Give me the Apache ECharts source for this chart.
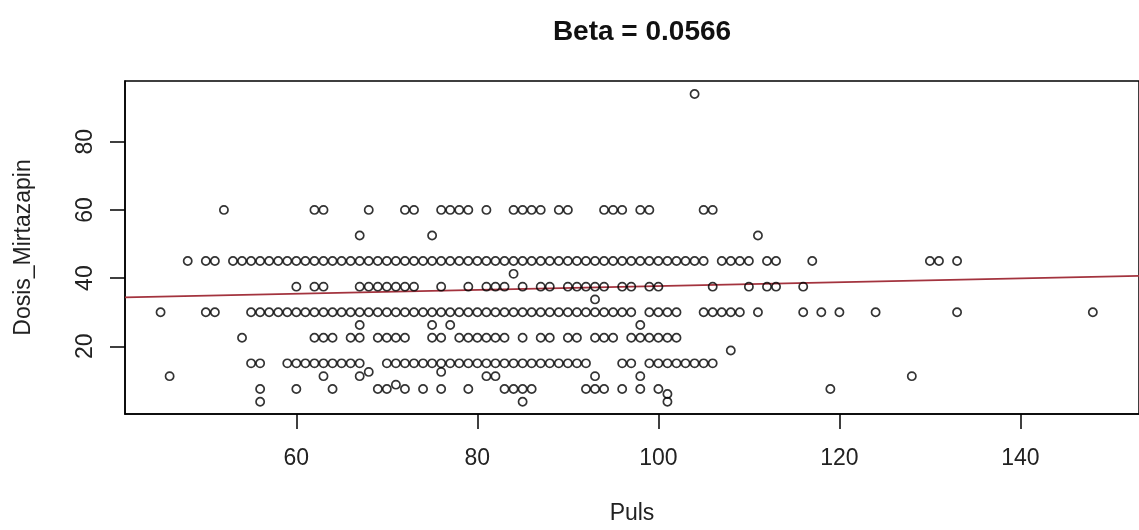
<!DOCTYPE html>
<html>
<head>
<meta charset="utf-8">
<script src="https://cdn.jsdelivr.net/npm/echarts@6/dist/echarts.min.js"></script>
<style>
  html, body { margin: 0; padding: 0; background: #ffffff; }
  #chart { width: 1139px; height: 530px; }
</style>
</head>
<body>
<div id="chart"></div>
<script>
// Puls values observed at each Mirtazapin dose (mg)
const puls_94 = [104];
const puls_60 = [52, 62, 63, 68, 72, 73, 76, 77, 78, 79, 81, 84, 85, 86, 87, 89, 90, 94, 95, 96, 98, 99, 105, 106];
const puls_52_5 = [67, 75, 111];
const puls_45 = [48, 50, 51,
  53, 54, 55, 56, 57, 58, 59, 60, 61, 62, 63, 64, 65, 66, 67, 68, 69, 70,
  71, 72, 73, 74, 75, 76, 77, 78, 79, 80, 81, 82, 83, 84, 85, 86, 87, 88,
  89, 90, 91, 92, 93, 94, 95, 96, 97, 98, 99, 100, 101, 102, 103, 104, 105,
  107, 108, 109, 110, 112, 113, 117, 130, 131, 133];
const puls_41_25 = [84];
const puls_37_5 = [60, 62, 63, 67, 68, 69, 70, 71, 72, 73, 76, 79, 81, 82, 83, 85, 87, 88,
  90, 91, 92, 93, 94, 96, 97, 99, 100, 106, 110, 112, 113, 116];
const puls_33_75 = [93];
const puls_30 = [45, 50, 51,
  55, 56, 57, 58, 59, 60, 61, 62, 63, 64, 65, 66, 67, 68, 69, 70, 71, 72,
  73, 74, 75, 76, 77, 78, 79, 80, 81, 82, 83, 84, 85, 86, 87, 88, 89, 90,
  91, 92, 93, 94, 95, 96, 97,
  99, 100, 101, 102, 105, 106, 107, 108, 109, 111, 116, 118, 120, 124, 133, 148];
const puls_26_25 = [67, 75, 77, 98];
const puls_22_5 = [54, 62, 63, 64, 66, 67, 69, 70, 71, 72, 75, 76, 78, 79, 80, 81, 82, 83,
  85, 87, 88, 90, 91, 93, 94, 95, 97, 98, 99, 100, 101, 102];
const puls_18_75 = [108];
const puls_15 = [55, 56, 59, 60, 61, 62, 63, 64, 65, 66, 67,
  70, 71, 72, 73, 74, 75, 76, 77, 78, 79, 80, 81, 82, 83, 84, 85, 86, 87,
  88, 89, 90, 91, 92, 96, 97, 99, 100, 101, 102, 103, 104, 105, 106];
const puls_12_5 = [68, 76];
const puls_11_25 = [46, 63, 67, 81, 82, 93, 98, 128];
const puls_8_75 = [71];
const puls_7_5 = [56, 60, 64, 69, 70, 72, 74, 76, 79, 83, 84, 85, 86, 92, 93, 94, 96, 98, 100, 119];
const puls_6 = [101];
const puls_3_75 = [56, 85, 101];

const doseLevels = [94, 60, 52.5, 45, 41.25, 37.5, 33.75, 30, 26.25, 22.5, 18.75, 15, 12.5, 11.25, 8.75, 7.5, 6, 3.75];
const pulsByDose = [puls_94, puls_60, puls_52_5, puls_45, puls_41_25, puls_37_5, puls_33_75, puls_30,
  puls_26_25, puls_22_5, puls_18_75, puls_15, puls_12_5, puls_11_25, puls_8_75, puls_7_5, puls_6, puls_3_75];

// Fitted regression line
const intercept = 32.0;
const beta = 0.0566;

// Axis ranges and tick labels
const xRange = [41.07, 153.1];
const yRange = [0.15, 97.8];
const xTicks = [60, 80, 100, 120, 140];
const yTicks = [20, 40, 60, 80];

const points = [];
doseLevels.forEach(function (dose, i) {
  pulsByDose[i].forEach(function (p) { points.push([p, dose]); });
});
const fitLine = [
  [xRange[0], intercept + beta * xRange[0]],
  [xRange[1], intercept + beta * xRange[1]]
];

const FONT = "'Liberation Sans', Arial, sans-serif";
const chart = echarts.init(document.getElementById('chart'), null, { renderer: 'canvas' });
chart.setOption({
  animation: false,
  backgroundColor: '#ffffff',
  title: {
    text: 'Beta = ' + beta.toFixed(4),
    left: 637,
    top: 13,
    textAlign: 'center',
    textStyle: { fontFamily: FONT, fontWeight: 'bold', fontSize: 28, color: '#111' }
  },
  grid: {
    left: 125, top: 81, width: 1024, height: 336,
    show: true, borderColor: '#000', borderWidth: 1.5, backgroundColor: 'transparent'
  },
  xAxis: {
    type: 'value',
    min: xRange[0], max: xRange[1],
    name: 'Puls',
    nameLocation: 'middle',
    nameGap: 88,
    nameTextStyle: { fontFamily: FONT, fontSize: 23, color: '#222' },
    axisLine: { show: true, onZero: false, lineStyle: { color: '#000', width: 1.5 } },
    axisTick: { show: true, length: 15, customValues: xTicks, lineStyle: { color: '#000', width: 1.5 } },
    axisLabel: { customValues: xTicks, margin: 33, fontFamily: FONT, fontSize: 23, color: '#222' },
    splitLine: { show: false }
  },
  yAxis: {
    type: 'value',
    min: yRange[0], max: yRange[1],
    name: 'Dosis_Mirtazapin',
    nameLocation: 'middle',
    nameRotate: 90,
    nameGap: 90,
    nameTextStyle: { fontFamily: FONT, fontSize: 23, color: '#222' },
    axisLine: { show: true, onZero: false, lineStyle: { color: '#000', width: 1.5 } },
    axisTick: { show: true, length: 15, customValues: yTicks, lineStyle: { color: '#000', width: 1.5 } },
    axisLabel: { customValues: yTicks, rotate: 90, margin: 28, fontFamily: FONT, fontSize: 23, color: '#222' },
    splitLine: { show: false }
  },
  series: [
    {
      type: 'scatter',
      data: points,
      symbol: 'circle',
      symbolSize: 8.2,
      itemStyle: { color: 'rgba(0,0,0,0)', borderColor: '#000', borderWidth: 1.7 },
      emphasis: { disabled: true },
      z: 3
    },
    {
      type: 'line',
      data: fitLine,
      symbol: 'none',
      lineStyle: { color: '#a3333e', width: 1.8 },
      clip: true,
      z: 2
    }
  ]
});
</script>
</body>
</html>
